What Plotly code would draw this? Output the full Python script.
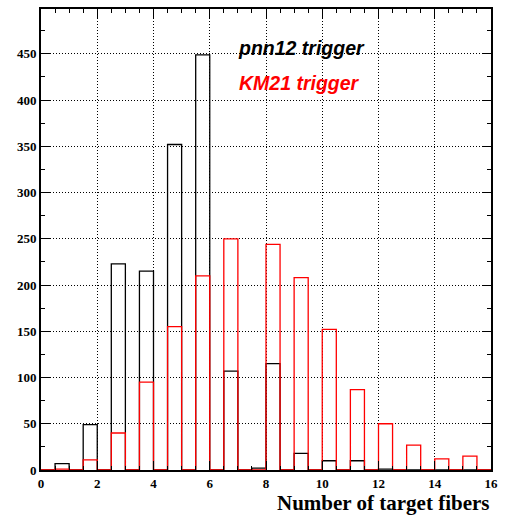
import plotly.graph_objects as go

# Histogram binning: 32 bins of width 0.5 on [0, 16]
bin_edges = [0.5 * i for i in range(33)]

# Counts per bin for each trigger
pnn12_counts = [0, 7, 0, 49, 0, 223, 0, 215, 0, 352, 0, 449, 0, 107, 0, 2,
                115, 0, 18, 0, 10, 0, 10, 0, 1, 0, 0, 0, 0, 0, 0, 0]
km21_counts = [0, 1, 0, 11, 0, 40, 0, 95, 0, 155, 0, 210, 0, 250, 0, 0,
               244, 0, 208, 0, 152, 0, 87, 0, 50, 0, 27, 0, 12, 0, 15, 0]

x_ticks = [0, 2, 4, 6, 8, 10, 12, 14, 16]
y_ticks = [0, 50, 100, 150, 200, 250, 300, 350, 400, 450]


def step_outline(counts):
    # hv step path over the bin edges, closed down to zero at both ends
    xs = [bin_edges[0]] + bin_edges[:-1] + [bin_edges[-1], bin_edges[-1]]
    ys = [0] + counts + [counts[-1], 0]
    return xs, ys


fig = go.Figure()
for counts, color in [(pnn12_counts, "black"), (km21_counts, "red")]:
    xs, ys = step_outline(counts)
    fig.add_trace(go.Scatter(x=xs, y=ys, mode="lines", line_shape="hv",
                             line=dict(color=color, width=1.3),
                             hoverinfo="skip", showlegend=False))

tick_font = dict(family="Liberation Serif", size=13, color="black", weight="bold")
grid_common = dict(showgrid=True, gridcolor="black", gridwidth=1, griddash="1px,2px",
                   zeroline=False, showline=True, linecolor="black", linewidth=2,
                   mirror="ticks", ticks="inside", tickcolor="black", tickwidth=1,
                   tickfont=tick_font)

fig.update_xaxes(range=[0, 16], tickvals=x_ticks, ticklen=9,
                 minor=dict(dtick=0.5, ticks="inside", ticklen=4, tickcolor="black",
                            showgrid=False),
                 **grid_common)
fig.update_yaxes(range=[0, 498.5], tickvals=y_ticks, ticklen=9,
                 minor=dict(dtick=25, ticks="inside", ticklen=4, tickcolor="black",
                            showgrid=False),
                 **grid_common)

# Axis title, right-aligned with the frame
fig.add_annotation(x=1, y=0, xref="paper", yref="paper", text="Number of target fibers",
                   showarrow=False, xanchor="right", yanchor="middle", yshift=-33,
                   font=dict(family="Liberation Serif", size=21, color="black",
                             weight="bold"))

label_font = dict(family="Liberation Sans", size=19.5, weight="bold", style="italic")
fig.add_annotation(x=6.95, y=456, xref="x", yref="y", text="pnn12 trigger",
                   showarrow=False, xanchor="left", yanchor="middle",
                   font=dict(color="black", **label_font))
fig.add_annotation(x=6.98, y=418, xref="x", yref="y", text="KM21 trigger",
                   showarrow=False, xanchor="left", yanchor="middle",
                   font=dict(color="red", **label_font))

fig.update_layout(width=505, height=517, margin=dict(l=41, r=14, t=7, b=47),
                  paper_bgcolor="white", plot_bgcolor="white")

fig.write_html("out.html")
